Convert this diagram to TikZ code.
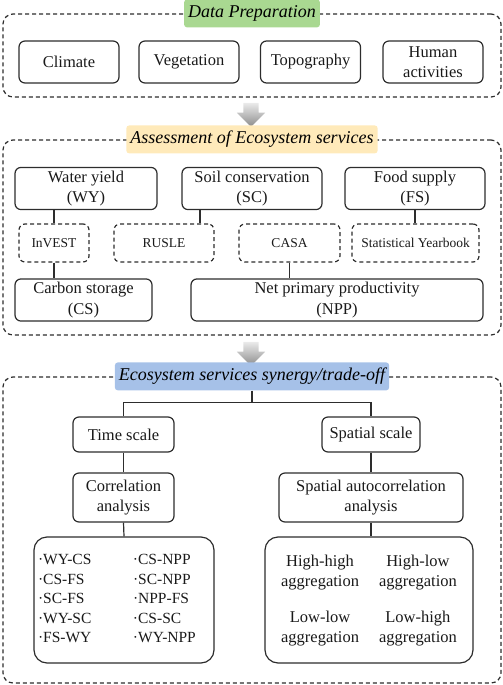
\documentclass[tikz,border=0pt]{standalone}
\usepackage{fontspec}
\setmainfont{Liberation Serif}
\usetikzlibrary{shapes.arrows}

\definecolor{prepgreen}{RGB}{169,216,145}
\definecolor{assessyellow}{RGB}{255,234,186}
\definecolor{synblue}{RGB}{166,193,232}
\definecolor{linegray}{RGB}{45,45,45}

\begin{document}
\begin{tikzpicture}[x=1pt, y=1pt,
    groupframe/.style={rectangle, draw=linegray, line width=1.2pt, dash pattern=on 4pt off 3pt, rounded corners=10pt},
    heading/.style={rectangle, rounded corners=3pt, inner xsep=4pt, minimum height=28pt, font=\fontsize{18}{20}\selectfont\itshape},
    block/.style={rectangle, draw=linegray, line width=1.2pt, rounded corners=6pt, align=center, text=black!90, font=\fontsize{16.5}{20.5}\selectfont},
    method/.style={rectangle, draw=linegray, line width=1.2pt, dash pattern=on 4pt off 3pt, rounded corners=6pt, minimum height=38pt, text=black!90, font=\fontsize{13.5}{16}\selectfont},
    bigbox/.style={block, rounded corners=13pt, minimum height=126pt},
    blockarrow/.style={single arrow, shape border rotate=270, inner sep=7.5pt, single arrow head extend=6.5pt, minimum height=24pt, minimum width=28pt, top color=black!8, bottom color=black!45},
    conn/.style={draw=linegray, line width=1.2pt}]

\useasboundingbox (0,0) rectangle (503,-685);

% Data preparation
\node[groupframe, minimum width=498pt, minimum height=83pt] (prep) at (252,-55.5) {};
\node[heading, fill=prepgreen] (preptitle) at (prep.north) {Data Preparation};
\node[block, minimum width=100pt, minimum height=42pt] (climate) at (69,-62) {Climate};
\node[block, minimum width=100pt, minimum height=42pt] (vegetation) at (189,-62) {Vegetation};
\node[block, minimum width=100pt, minimum height=42pt] (topography) at (310.5,-62) {Topography};
\node[block, minimum width=100pt, minimum height=42pt] (human) at (433,-62) {Human\\activities};

\node[blockarrow] (arrowA) at (251,-111) {};

% Assessment of ecosystem services
\node[groupframe, minimum width=498pt, minimum height=195pt] (assess) at (252,-237.5) {};
\node[heading, fill=assessyellow] (assesstitle) at (assess.north) {Assessment of Ecosystem services};
\node[block, minimum width=142pt, minimum height=41pt] (wy) at (86,-188.5) {Water yield\\(WY)};
\node[block, minimum width=140pt, minimum height=41pt] (sc) at (252,-188.5) {Soil conservation\\(SC)};
\node[block, minimum width=140pt, minimum height=41pt] (fs) at (415,-188.5) {Food supply\\(FS)};
\node[method, minimum width=70pt] (invest) at (54,-243) {InVEST};
\node[method, minimum width=100pt] (rusle) at (164,-243) {RUSLE};
\node[method, minimum width=101pt] (casa) at (289.5,-243) {CASA};
\node[method, minimum width=127pt] (yearbook) at (415.5,-243) {Statistical Yearbook};
\node[block, minimum width=137pt, minimum height=42pt] (cs) at (83.5,-300) {Carbon storage\\(CS)};
\node[block, minimum width=292pt, minimum height=42pt] (npp) at (337,-300) {Net primary productivity\\(NPP)};

\draw[conn] (wy.south -| invest.north) -- (invest.north);
\draw[conn] (invest.south) -- (invest.south |- cs.north);
\draw[conn] ([xshift=-52pt]sc.south) -- ([xshift=-52pt]sc.south |- rusle.north);
\draw[conn] (fs.south) -- (fs.south |- yearbook.north);
\draw[conn] (casa.south) -- (casa.south |- npp.north);

\node[blockarrow] (arrowB) at (251,-350) {};

% Synergy / trade-off
\node[groupframe, minimum width=498pt, minimum height=306pt] (synergy) at (252,-530) {};
\node[heading, fill=synblue] (syntitle) at (synergy.north) {Ecosystem services synergy/trade-off};
\node[block, minimum width=101pt, minimum height=35pt] (time) at (123.5,-434.5) {Time scale};
\node[block, minimum width=98pt, minimum height=35pt] (spatial) at (371,-434.5) {Spatial scale};
\node[block, minimum width=101pt, minimum height=49pt] (corr) at (123.5,-497.5) {Correlation\\analysis};
\node[block, minimum width=184pt, minimum height=49pt] (spauto) at (371,-497.5) {Spatial autocorrelation\\analysis};
\node[bigbox, text width=172pt, inner xsep=4pt, align=left, font=\fontsize{15.5}{19.5}\selectfont] (pairs) at (124,-600) {%
  \begin{tabular}{@{}p{95pt}@{}l@{}}
  ·WY-CS & ·CS-NPP\\
  ·CS-FS & ·SC-NPP\\
  ·SC-FS & ·NPP-FS\\
  ·WY-SC & ·CS-SC\\
  ·FS-WY & ·WY-NPP
  \end{tabular}};
\node[bigbox, minimum width=208pt, font=\fontsize{16.5}{20}\selectfont] (clusters) at (369,-600) {%
  \begin{tabular}{@{}c@{\hspace{20pt}}c@{}}
  High-high & High-low\\
  aggregation & aggregation\\[16pt]
  Low-low & Low-high\\
  aggregation & aggregation
  \end{tabular}};

\draw[conn] (syntitle.south) -- ++(0,-12) coordinate (split);
\draw[conn] (time.north) |- (split) -| (spatial.north);
\draw[conn] (time.south) -- (corr.north);
\draw[conn] (corr.south) -- (pairs.north);
\draw[conn] (spatial.south) -- (spauto.north);
\draw[conn] (spauto.south) -- (spauto.south |- clusters.north);

\end{tikzpicture}
\end{document}
